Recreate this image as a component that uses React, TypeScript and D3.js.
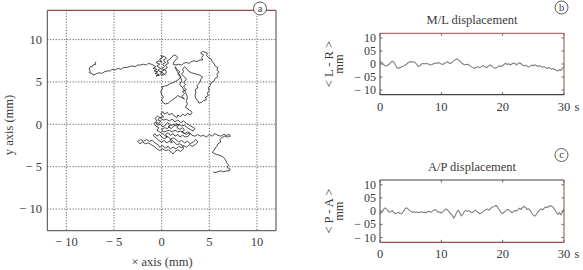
import React from "react";
import * as d3 from "d3";

// ---------- data (stabilogram, mm) ----------
type P = [number, number];
const trajLeftTail: P[] = [
  [-6.9, 7.4], [-7.0, 7.2], [-6.9, 7.1], [-7.2, 7.0], [-7.3, 6.8], [-7.5, 6.8], [-7.6, 6.5], [-7.5, 6.3], [-7.6, 6.1],
  [-7.3, 6.0], [-7.2, 5.8], [-7.0, 5.9], [-6.8, 6.0], [-6.5, 6.1], [-6.3, 6.0], [-6.0, 6.2], [-5.7, 6.3], [-5.4, 6.3],
  [-5.2, 6.5], [-4.9, 6.4], [-4.6, 6.6], [-4.3, 6.5], [-4.0, 6.7], [-3.7, 6.7], [-3.4, 6.8], [-3.1, 6.9], [-2.8, 6.8],
  [-2.5, 7.0], [-2.2, 7.0], [-1.9, 7.1], [-1.6, 7.0], [-1.4, 7.2], [-1.1, 7.1],
];
const trajUpperCluster: P[] = [
  [-0.9, 7.0], [-0.6, 6.8], [-0.9, 6.6], [-0.5, 6.5], [-0.8, 6.3], [-0.4, 6.2], [-0.7, 6.0], [-0.3, 5.9], [-0.6, 5.7],
  [-0.2, 5.8], [0.0, 6.1], [-0.4, 6.4], [-0.1, 6.6], [-0.5, 6.9], [-0.2, 7.1], [-0.6, 7.3], [-0.3, 7.5], [0.0, 7.3],
  [-0.2, 7.7], [0.1, 7.9], [-0.1, 8.1], [0.3, 8.0], [0.5, 7.8], [0.2, 7.6], [0.4, 7.3], [0.1, 7.1], [0.3, 6.8],
  [0.0, 6.6], [0.3, 6.4], [-0.1, 6.2], [0.2, 6.0], [0.0, 5.8], [0.4, 5.9], [0.5, 6.2], [0.3, 6.5], [0.6, 6.7],
  [0.4, 7.0], [0.7, 7.2], [0.6, 7.5], [0.9, 7.7], [1.1, 8.0], [1.3, 8.2], [1.5, 8.1], [1.7, 7.9], [1.5, 7.6],
  [1.3, 7.4], [1.2, 7.1],
];
const trajUpperLoop: P[] = [
  [1.5, 7.0], [1.8, 7.1], [2.1, 7.0], [2.3, 7.2], [2.6, 7.3], [2.9, 7.2], [3.1, 7.4], [3.4, 7.5], [3.7, 7.4],
  [4.0, 7.6], [4.3, 7.6], [4.2, 7.9], [4.4, 8.2], [4.1, 8.4], [4.3, 8.6], [4.6, 8.5], [4.8, 8.4], [4.7, 8.1],
  [4.9, 7.9], [5.2, 7.7], [5.3, 7.4], [5.5, 7.2], [5.6, 6.9], [5.9, 6.7], [5.8, 6.4], [6.0, 6.2], [5.8, 5.9],
  [5.9, 5.6], [5.6, 5.4], [5.5, 5.1], [5.2, 4.9], [5.1, 4.6], [4.9, 4.3], [5.0, 4.0], [4.8, 3.7], [4.9, 3.4],
  [4.6, 3.2], [4.7, 2.9], [4.4, 2.8], [4.2, 2.6], [3.9, 2.5], [3.8, 2.8], [3.6, 3.0], [3.5, 3.4], [3.6, 3.8],
  [3.5, 4.1], [3.8, 4.3], [3.7, 4.6], [4.0, 4.9], [4.1, 5.3], [4.3, 5.6], [4.0, 5.8], [3.7, 5.9], [3.4, 6.0],
  [3.1, 6.1], [2.8, 6.3], [2.6, 6.6], [2.4, 6.8], [2.2, 6.5], [2.3, 6.2], [2.1, 5.9], [2.4, 5.6], [2.6, 5.3],
  [2.3, 5.0], [2.5, 4.7], [2.3, 4.4], [2.6, 4.1], [2.2, 3.9], [2.4, 3.6], [2.1, 3.3], [2.4, 3.0],
];
const trajMiddle: P[] = [
  [2.0, 3.2], [1.7, 3.4], [1.4, 3.1], [1.0, 2.8], [0.7, 2.5], [0.4, 2.4], [0.1, 2.6], [0.0, 2.9], [0.2, 3.2],
  [0.0, 3.5], [-0.1, 3.9], [0.1, 4.2], [0.0, 4.4], [0.3, 4.5], [0.6, 4.6], [0.9, 4.8], [1.2, 4.9], [1.5, 5.1],
  [1.8, 5.3], [2.0, 5.6], [1.7, 5.9], [1.9, 6.2], [1.6, 6.5], [1.4, 6.8], [1.6, 6.3], [1.9, 5.8], [2.1, 5.2],
  [1.9, 4.7], [2.2, 4.3], [2.5, 3.8], [2.7, 3.2], [2.6, 2.7], [2.7, 2.4], [2.5, 2.0], [2.9, 1.7], [3.2, 1.4],
  [3.0, 1.1], [2.7, 1.3],
];
const trajLowerCluster: P[] = [
  [2.5, 1.0], [2.2, 1.2], [2.0, 0.9], [1.7, 1.1], [1.6, 0.8], [1.3, 1.0], [1.1, 1.3], [0.8, 1.1], [0.6, 1.4],
  [0.3, 1.2], [0.1, 1.5], [-0.1, 1.2], [0.2, 0.9], [-0.2, 0.8], [-0.4, 0.5], [-0.1, 0.4], [-0.3, 0.1], [-0.6, 0.2],
  [-0.4, -0.1], [-0.1, 0.0], [0.1, -0.3], [0.4, -0.1], [0.6, 0.2], [0.9, 0.0], [0.7, -0.3], [1.0, -0.5], [1.3, -0.2],
  [1.5, 0.1], [1.8, -0.1], [1.6, -0.4], [1.9, -0.6], [2.2, -0.4], [2.4, -0.7], [2.1, -0.9], [2.4, -1.1], [2.7, -0.9],
  [3.0, -1.1], [2.8, -1.4], [2.5, -1.5], [2.2, -1.3], [1.9, -1.5], [1.7, -1.2], [1.4, -1.4], [1.2, -1.1], [0.9, -1.3],
  [0.7, -1.0], [0.4, -1.2], [0.6, -1.5], [0.3, -1.7], [0.0, -1.5], [-0.2, -1.2], [-0.5, -1.4], [-0.7, -1.1], [-0.9, -1.3],
  [-0.6, -1.6], [-0.3, -1.9], [0.0, -2.1], [0.3, -1.9], [0.5, -2.2], [0.8, -2.0], [1.1, -2.2], [0.9, -1.8], [1.2, -1.6],
  [1.5, -1.8], [1.8, -2.1], [2.1, -1.9], [2.4, -2.2], [2.7, -2.0], [3.0, -2.3], [3.3, -2.1], [3.6, -1.8], [3.8, -2.1],
  [3.5, -2.4], [3.2, -2.6], [2.9, -2.4], [2.6, -2.7], [2.3, -2.5], [2.1, -2.8], [1.8, -2.6], [1.5, -2.9], [1.2, -2.7],
  [0.9, -2.9], [0.7, -2.6], [0.4, -2.8], [0.1, -2.5], [-0.2, -2.7], [-0.4, -2.4], [-0.7, -2.2], [-1.0, -1.9], [-1.3, -2.0],
  [-1.6, -1.8], [-1.9, -2.0], [-2.2, -1.8], [-2.5, -2.0], [-2.3, -2.3], [-2.0, -2.1], [-1.7, -2.3], [-1.4, -2.2], [-1.1, -2.4],
  [-0.8, -2.6], [-0.5, -2.9], [-0.2, -3.1], [0.1, -2.9], [0.4, -3.1], [0.7, -3.0], [1.0, -3.3], [1.2, -3.5], [1.4, -3.2],
  [1.7, -3.0], [2.0, -3.2], [2.3, -2.9], [2.2, -2.5], [1.9, -2.3], [1.6, -2.4], [1.3, -2.1], [1.0, -1.8], [0.7, -1.5],
  [0.4, -1.4], [0.1, -1.1], [-0.2, -0.9], [-0.5, -0.7], [-0.3, -0.4], [-0.6, -0.2], [-0.8, 0.1], [-0.5, 0.4], [-0.7, 0.7],
  [-0.4, 1.0], [-0.1, 0.7], [0.2, 0.5], [0.5, 0.6], [0.8, 0.4], [1.1, 0.6], [1.4, 0.3], [1.7, 0.5], [2.0, 0.2],
  [2.3, 0.4], [2.6, 0.1], [2.9, -0.1], [3.2, -0.3], [3.5, -0.5], [3.3, -0.8], [3.0, -0.6], [2.7, -0.4], [2.4, -0.1],
  [2.1, -0.2], [1.8, 0.0], [1.5, -0.2], [1.2, 0.0], [0.9, -0.2], [0.6, -0.5], [0.3, -0.4], [0.0, -0.6], [0.2, -0.9],
  [0.5, -0.8], [0.8, -0.7], [1.1, -0.9], [1.4, -0.7], [1.7, -0.9], [2.0, -0.8], [2.3, -1.0], [2.6, -1.2], [2.9, -1.0],
  [3.2, -1.3],
];
const trajRightTail: P[] = [
  [3.5, -1.4], [3.8, -1.2], [4.1, -1.4], [4.4, -1.3], [4.7, -1.5], [5.0, -1.2], [5.3, -1.4], [5.6, -1.1], [5.9, -1.3],
  [6.2, -1.4], [6.5, -1.2], [6.8, -1.3], [7.1, -1.2], [7.2, -1.4], [6.9, -1.5], [6.6, -1.4], [6.3, -1.6], [6.1, -1.8],
  [6.2, -2.1], [5.9, -2.3], [5.8, -2.6], [5.6, -2.8], [5.5, -3.1], [5.3, -3.3], [5.6, -3.5], [5.9, -3.6], [6.2, -3.7],
  [6.5, -3.9], [6.7, -4.2], [6.8, -4.5], [7.0, -4.8], [6.9, -5.1], [7.2, -5.3], [7.1, -5.5], [6.8, -5.5], [6.5, -5.6],
  [6.2, -5.5], [5.9, -5.6], [5.6, -5.7], [5.4, -5.6],
];

const seriesML: number[] = [
  1.0, 0.6, 0.0, -0.6, -0.8, -0.5, -0.1, 0.5, 1.1, 0.8, -0.3,
  -1.4, -1.6, -1.4, -1.1, -0.9, -0.6, -0.2, 0.3, 0.8, 1.0,
  0.7, 0.9, 0.5, -0.2, -1.0, -0.6, 0.0, 0.2, 0.1, 0.2,
  0.1, -0.1, -0.4, -0.2, 0.1, 0.4, 0.2, 0.6, 0.3, 0.0,
  -0.2, 0.3, 0.5, 0.9, 0.4, 0.2, 0.7, 1.2, 1.6, 1.9,
  1.7, 1.2, 0.5, 0.1, -0.3, -0.2, -0.1, -0.4, -0.8, -1.2,
  -1.5, -1.6, -1.3, -1.0, -1.4, -1.1, -0.6, -0.9, -1.4, -1.2,
  -0.6, -0.4, -0.9, -1.3, -1.6, -1.4, -1.0, -0.7, -1.0, -0.6,
  -0.1, 0.3, -0.2, 0.1, -0.4, 0.0, 0.4, 0.2, -0.3, 0.1,
  0.5, 0.1, -0.4, -0.8, -0.5, -0.9, -1.2, -0.8, -0.4, -0.7,
  -0.3, -0.6, -1.0, -0.7, -0.9, -1.3, -1.0, -1.4, -1.7, -1.3,
  -1.6, -2.0, -1.7, -2.1, -2.5, -2.7, -2.2, -2.5, -1.6, -1.0,
];
const seriesAP: number[] = [
  -1.0, -0.5, 0.3, 1.2, 1.0, 0.3, -0.4, -0.2, 0.2, -0.5, -1.0,
  -0.7, -0.4, -0.9, -1.0, -0.3, 0.5, 1.3, 1.0, 0.4, 0.0,
  -0.4, -0.2, -0.5, -0.3, -0.6, -0.4, -0.2, -0.5, -0.3, -0.6,
  -0.2, 0.0, -0.4, -0.1, 0.3, 0.6, 0.2, -0.5, -0.3, -0.7,
  -0.2, 0.3, 0.8, 0.5, -0.2, -0.9, -1.4, -2.7, -1.8, -0.4,
  0.4, -0.6, -1.8, -1.2, -0.2, 0.3, -0.1, 0.2, -0.3, -0.6,
  -0.2, 0.3, 0.0, -0.5, -1.0, -0.7, -0.3, 0.2, 0.6, 0.8,
  0.4, 0.9, 1.5, 1.7, 2.0, 2.1, 1.2, 0.3, -0.6, -0.9,
  -0.4, 0.2, 0.7, 0.4, -0.1, -0.6, -0.2, 0.3, 0.1, 0.6,
  1.1, 0.7, 1.4, 1.8, 1.3, 0.6, 0.9, 0.2, -0.8, -1.5,
  -1.9, -1.2, -0.3, 0.4, 0.8, 0.5, 1.1, 1.6, 1.3, 1.8,
  2.0, 1.9, 1.4, 0.6, -0.4, -1.2, -0.6, -1.4, -0.3, 0.8,
];
const timeStep = 0.25;

const traTicks = [-10, -5, 0, 5, 10];
const traTickLabels = ["− 10", "− 5", "0", "5", "10"];
const tsYTicks = [10, 5, 0, -5, -10];
const tsYTickLabels = ["10", "05", "0", "− 05", "− 10"];
const tsXTicks = [0, 10, 20, 30];
const tsXTickLabels = ["0", "10", "20", "30"];

const FONT = "'Liberation Serif', 'Times New Roman', 'DejaVu Serif', serif";
const TXT = "#3a3a3a";
const FRAME = "#444";
const RED = "#9a4a44";

function T({ x, y, size = 12, anchor = "middle", rotate, children }:
  { x: number; y: number; size?: number; anchor?: string; rotate?: boolean; children: React.ReactNode }) {
  return (
    <text x={rotate ? 0 : x} y={rotate ? 0 : y} transform={rotate ? `translate(${x},${y}) rotate(-90)` : undefined}
      textAnchor={anchor as any} fill={TXT} style={{ fontFamily: FONT, fontSize: size }}>{children}</text>
  );
}

function Badge({ x, y, t }: { x: number; y: number; t: string }) {
  return (
    <g>
      <circle cx={x} cy={y} r={6.5} fill="#fff" stroke="#333" strokeWidth={0.8} />
      <T x={x} y={y + 3.3} size={10.5}>{t}</T>
    </g>
  );
}

function TimePanel({ top, bottom, title, titleY, yLabel, data, badgeY, badge, redSides }:
  { top: number; bottom: number; title: string; titleY: number; yLabel: string; data: number[]; badgeY: number; badge: string; redSides: string[] }) {
  const left = 380, right = 564;
  const x = d3.scaleLinear().domain([0, 30]).range([left, right]);
  const y = d3.scaleLinear().domain([-11.8, 11.8]).range([bottom, top]);
  const line = d3.line<number>().x((_, i) => x(i * timeStep)).y((d) => y(d));
  const side = (s: string) => (redSides.includes(s) ? RED : FRAME);
  const midY = (top + bottom) / 2;
  return (
    <g>
      <T x={(left + right) / 2} y={titleY} size={12.5}>{title}</T>
      <Badge x={561.5} y={badgeY} t={badge} />
      <path d={line(data) || ""} fill="none" stroke="#808080" strokeWidth={1.1} strokeLinejoin="round" />
      {tsYTicks.map((v, i) => (
        <g key={"y" + i}>
          <line x1={left} x2={left + 2.5} y1={y(v)} y2={y(v)} stroke={FRAME} strokeWidth={0.8} />
          <line x1={right} x2={right - 2.5} y1={y(v)} y2={y(v)} stroke={FRAME} strokeWidth={0.8} />
          <T x={376} y={y(v) + 4} size={12} anchor="end">{tsYTickLabels[i]}</T>
        </g>
      ))}
      {tsXTicks.map((v, i) => (
        <g key={"x" + i}>
          <line x1={x(v)} x2={x(v)} y1={bottom} y2={bottom - 2.5} stroke={FRAME} strokeWidth={0.8} />
          <line x1={x(v)} x2={x(v)} y1={top} y2={top + 2.5} stroke={FRAME} strokeWidth={0.8} />
          <T x={x(v)} y={bottom + 16} size={12.5}>{tsXTickLabels[i]}</T>
        </g>
      ))}
      <T x={577} y={bottom + 16} size={12.5}>s</T>
      <line x1={left} x2={right} y1={top} y2={top} stroke={side("top")} strokeWidth={1} />
      <line x1={right} x2={right} y1={top} y2={bottom} stroke={side("right")} strokeWidth={1} />
      <line x1={left} x2={right} y1={bottom} y2={bottom} stroke={side("bottom")} strokeWidth={1.2} />
      <line x1={left} x2={left} y1={top} y2={bottom} stroke={side("left")} strokeWidth={1} />
      <T x={333} y={midY} size={12.5} rotate>{yLabel}</T>
      <T x={343} y={midY} size={12.5} rotate>mm</T>
    </g>
  );
}

export default function App() {
  const L = 47.3, R = 276, TOP = 10.3, B = 230.7;
  const x = d3.scaleLinear().domain([-12, 12]).range([L, R]);
  const y = d3.scaleLinear().domain([-12.56, 13.46]).range([B, TOP]);
  const pts: P[] = [...trajLeftTail, ...trajUpperCluster, ...trajUpperLoop, ...trajMiddle, ...trajLowerCluster, ...trajRightTail];
  const path = d3.line<P>().x((d) => x(d[0])).y((d) => y(d[1]))(pts) || "";
  return (
    <svg width={583} height={270} style={{ position: "absolute", left: 0, top: 0, background: "#fff" }}>
      {traTicks.map((v, i) => (
        <g key={"g" + i}>
          <line x1={x(v)} x2={x(v)} y1={TOP} y2={B} stroke="#555" strokeWidth={0.9} strokeDasharray="1.2,1.6" />
          <line x1={L} x2={R} y1={y(v)} y2={y(v)} stroke="#555" strokeWidth={0.9} strokeDasharray="1.2,1.6" />
          <T x={x(v)} y={246} size={12.5}>{traTickLabels[i]}</T>
          <T x={42} y={y(v) + 4.3} size={12.5} anchor="end">{traTickLabels[i]}</T>
        </g>
      ))}
      <path d={path} fill="none" stroke="#111" strokeWidth={0.75} strokeLinejoin="round" />
      <line x1={L} x2={L} y1={TOP} y2={B} stroke={FRAME} strokeWidth={1} />
      <line x1={R} x2={R} y1={TOP} y2={B} stroke={FRAME} strokeWidth={1} />
      <line x1={L} x2={R} y1={B} y2={B} stroke={FRAME} strokeWidth={1} />
      <line x1={L} x2={R} y1={TOP} y2={TOP} stroke={RED} strokeWidth={1.2} />
      <Badge x={260} y={8.5} t="a" />
      <T x={162} y={266} size={12.5}>× axis (mm)</T>
      <T x={13} y={125} size={12.5} rotate>y axis (mm)</T>

      <TimePanel top={33.3} bottom={94.7} title="M/L displacement" titleY={24} yLabel="< L - R >" data={seriesML} badgeY={7.5} badge="b" redSides={["top", "right"]} />
      <TimePanel top={180} bottom={242.3} title="A/P displacement" titleY={171} yLabel="< P - A >" data={seriesAP} badgeY={155} badge="c" redSides={["bottom", "right"]} />
    </svg>
  );
}
